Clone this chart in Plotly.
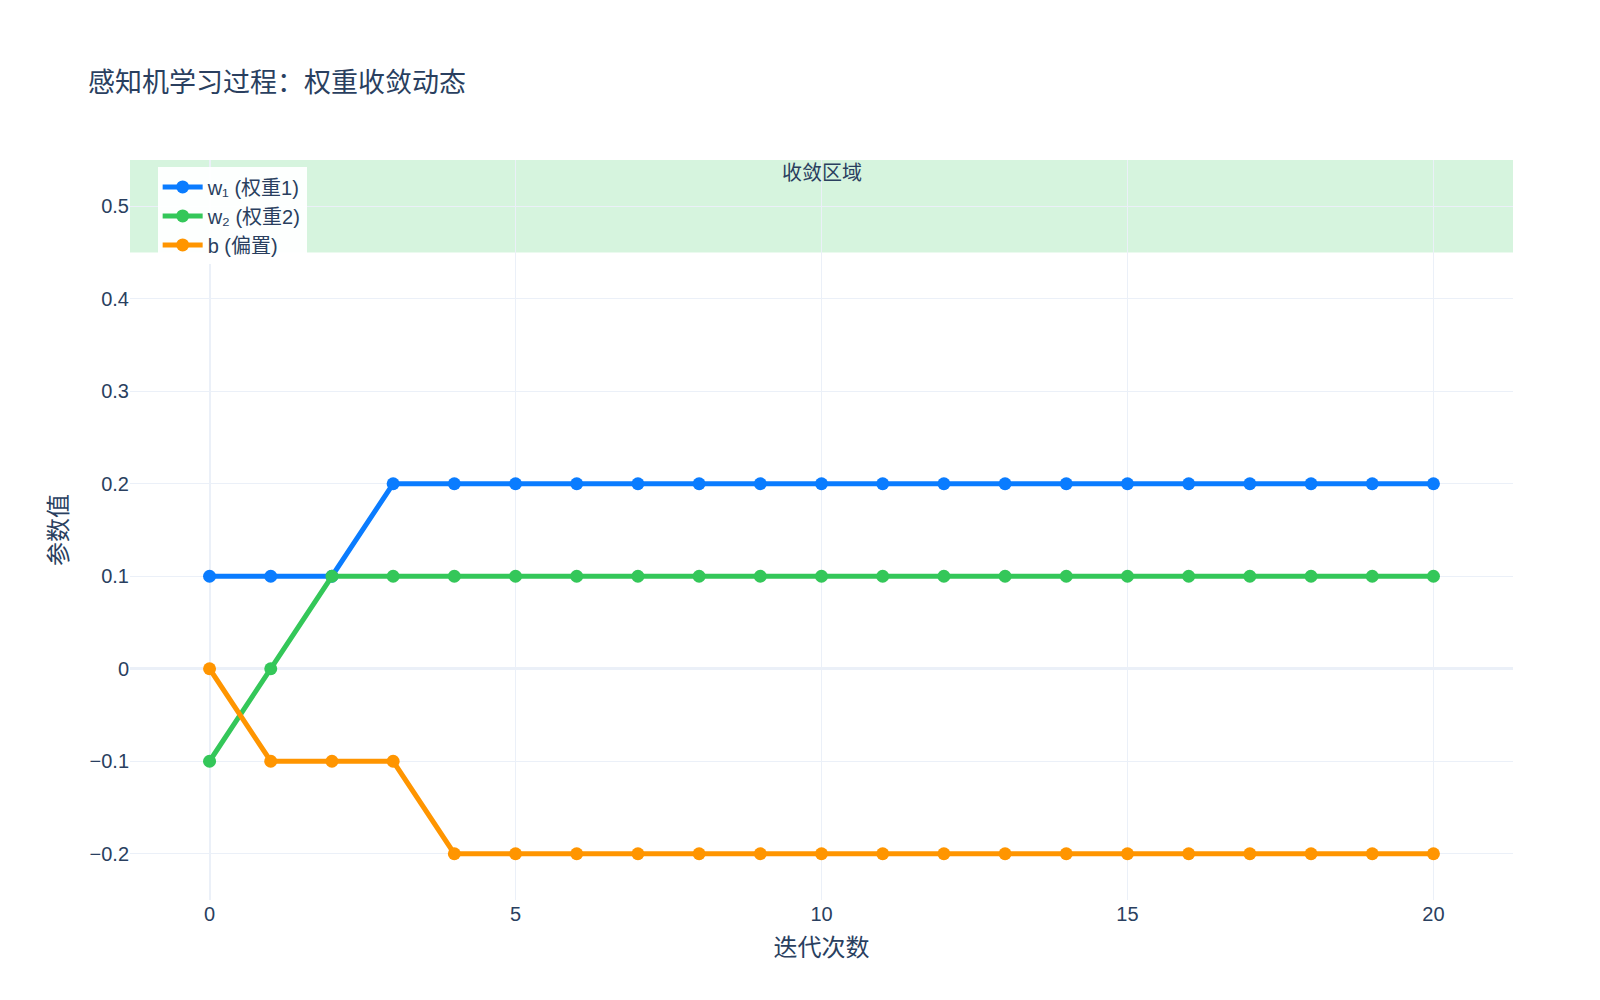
import plotly.graph_objects as go

# iterations and parameter values
iters = list(range(21))
w1 = [0.1, 0.1, 0.1] + [0.2] * 18
w2 = [-0.1, 0.0] + [0.1] * 19
b = [0.0, -0.1, -0.1, -0.1] + [-0.2] * 17

series = [
    ('w₁ (权重1)', w1, '#0a7cff'),
    ('w₂ (权重2)', w2, '#34c759'),
    ('b (偏置)', b, '#ff9500'),
]

fig = go.Figure()
for name, vals, col in series:
    fig.add_trace(go.Scatter(
        x=iters, y=vals, name=name, mode='lines+markers',
        line=dict(color=col, width=5),
        marker=dict(size=13, color=col),
    ))

fig.add_hrect(y0=0.45, y1=0.55, fillcolor='rgba(52,199,89,0.2)', line_width=0,
              layer='below', annotation_text='收敛区域', annotation_position='top',
              annotation_font=dict(size=20, color='#2a3f5f'))

fig.update_layout(
    template='plotly_white',
    width=1600, height=1000,
    title=dict(text='感知机学习过程：权重收敛动态', x=0.05, y=0.935, font=dict(size=27)),
    font=dict(family='Liberation Sans, Noto Sans CJK SC, sans-serif', size=20),
    xaxis=dict(title=dict(text='迭代次数', font=dict(size=24)), range=[-1.3, 21.3], dtick=5),
    yaxis=dict(title=dict(text='参数值', font=dict(size=24)), range=[-0.25, 0.55], dtick=0.1,
               zerolinewidth=3),
    legend=dict(x=0.02, y=0.99, bgcolor='rgba(255,255,255,0.95)', font=dict(size=20),
                itemwidth=40),
    margin=dict(l=122, r=95, t=152, b=108),
)

fig.write_html('out.html')
